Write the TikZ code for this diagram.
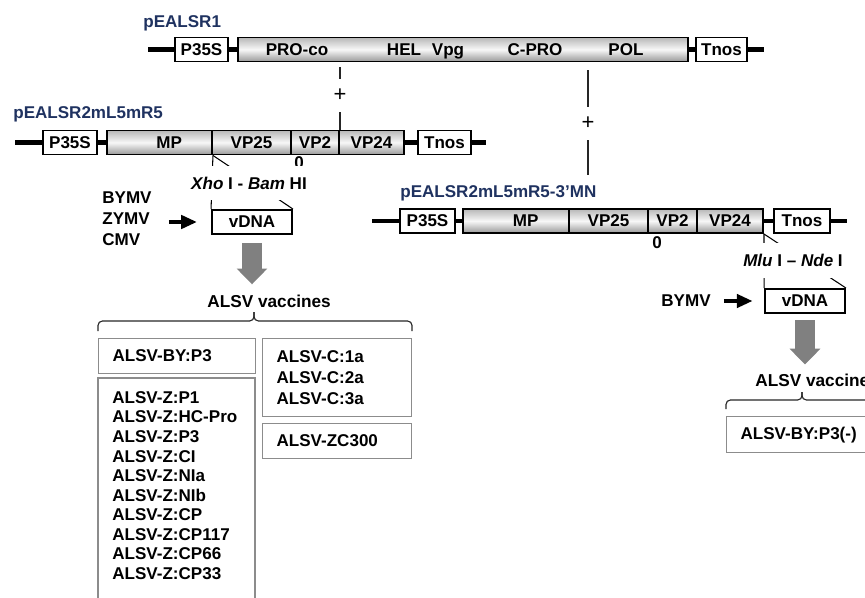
\documentclass[tikz,border=0pt]{standalone}
\usepackage{fontspec}
\setmainfont{Liberation Sans}
\usetikzlibrary{positioning,arrows.meta}
\definecolor{labelnavy}{RGB}{31,50,96}
\definecolor{listgray}{RGB}{140,140,140}
\definecolor{flowgray}{RGB}{128,128,128}

\begin{document}
\begin{tikzpicture}[x=0.02cm, y=-0.02cm,
  every node/.style={font=\fontsize{9.7}{11.6}\selectfont\bfseries},
  backbone/.style={line width=2.4pt},
  promoter/.style={draw, fill=white, line width=1.1pt, minimum height=0.48cm, inner sep=0pt},
  gene/.style={draw, line width=1.1pt, minimum height=0.48cm, inner sep=0pt, top color=black!28, bottom color=black!40, middle color=black!3},
  plasmid/.style={text=labelnavy, inner sep=0pt, anchor=base west},
  joinline/.style={line width=0.7pt, black!85},
  plus/.style={font=\fontsize{12.5}{12}\selectfont, inner sep=0pt, minimum height=0.66cm},
  cutline/.style={line width=0.6pt},
  site/.style={fill=white, inner sep=0pt, minimum height=0.7cm},
  insert/.style={draw, line width=1.1pt, minimum width=1.6cm, minimum height=0.48cm, inner sep=0pt},
  flow/.style={line width=2.2pt, -{Triangle[length=9pt,width=7.5pt]}},
  bigflow/.style={line width=11pt, flowgray, -{Triangle[length=9pt,width=17pt]}},
  heading/.style={inner sep=0pt, font=\fontsize{9.8}{11}\selectfont\bfseries},
  vacbox/.style={draw=listgray, line width=0.7pt, anchor=north west, inner xsep=0.28cm, inner ysep=0pt, align=left},
  listframe/.style={draw=listgray, line width=0.7pt},
  bracepath/.style={line width=0.65pt, black!85, rounded corners=2.5pt},
]
\useasboundingbox (0,0) rectangle (865,598);

% ===== pEALSR1 =====
\node[plasmid] (lab1) at (143,28) {pEALSR1};
\node[promoter, minimum width=1.06cm] (p35s1) at (201.5,49.5) {P35S};
\node[gene, minimum width=9cm] (gene1) at (463,49.5) {};
\node[promoter, minimum width=1.02cm] (tnos1) at (721.5,49.5) {Tnos};
\coordinate (l1) at (148,49.5);
\coordinate (r1) at (764,49.5);
\draw[backbone] (l1) -- (p35s1); \draw[backbone] (p35s1) -- (gene1);
\draw[backbone] (gene1) -- (tnos1); \draw[backbone] (tnos1) -- (r1);
\foreach \x/\t [count=\i] in {297/PRO-co, 404/HEL, 448/Vpg, 535/C-PRO, 626/POL}
  \node[anchor=base] (seg\i) at (\x,55.5) {\t};

% ===== pEALSR2mL5mR5 =====
\node[plasmid] (lab2) at (13,118) {pEALSR2mL5mR5};
\node[promoter, minimum width=1.08cm] (p35s2) at (70,142.5) {P35S};
\node[gene, minimum width=2.1cm] (mp2) at (159.5,142.5) {\hspace{11pt}MP};
\node[gene, minimum width=1.58cm] (vp25b) at (251.5,142.5) {VP25};
\node[gene, minimum width=0.96cm] (vp2b) at (315,142.5) {VP2\hspace{5pt}};
\node[gene, minimum width=1.3cm] (vp24b) at (371.5,142.5) {VP24};
\node[promoter, minimum width=1.06cm] (tnos2) at (444.5,142.5) {Tnos};
\coordinate (l2) at (15,142.5);
\coordinate (r2) at (486,142.5);
\draw[backbone] (l2) -- (p35s2); \draw[backbone] (p35s2) -- (mp2);
\draw[backbone] (vp24b) -- (tnos2); \draw[backbone] (tnos2) -- (r2);
\node (zero2) at (299,163) {0};

% ===== pEALSR2mL5mR5-3'MN =====
\node[plasmid] (lab3) at (400,197) {pEALSR2mL5mR5-3’MN};
\node[promoter, minimum width=1.1cm] (p35s3) at (427.5,221) {P35S};
\node[gene, minimum width=2.12cm] (mp3) at (516,221) {\hspace{11pt}MP};
\node[gene, minimum width=1.58cm] (vp25c) at (608.5,221) {VP25};
\node[gene, minimum width=0.98cm] (vp2c) at (672.5,221) {VP2\hspace{5pt}};
\node[gene, minimum width=1.32cm] (vp24c) at (730,221) {VP24};
\node[promoter, minimum width=1.12cm] (tnos3) at (802,221) {Tnos};
\coordinate (l3) at (372,221);
\coordinate (r3) at (847,221);
\draw[backbone] (l3) -- (p35s3); \draw[backbone] (p35s3) -- (mp3);
\draw[backbone] (vp24c) -- (tnos3); \draw[backbone] (tnos3) -- (r3);
\node (zero3) at (657,243) {0};

% plus links
\node[plus] (plusl) at (340,95.5) {+};
\draw[joinline, shorten <=2.8pt] (gene1.south -| plusl) -- (plusl.north);
\draw[joinline] (plusl.south) -- (plusl.south |- vp24b.north);
\node[plus] (plusr) at (588,123.5) {+};
\draw[joinline, shorten <=4.5pt] (gene1.south -| plusr) -- (plusr.north);
\draw[joinline, shorten >=5.7pt] (plusr.south) -- (plusr.south |- lab3.north);

% ===== inserts =====
\node[insert] (vdnal) at (252,222) {vDNA};
\draw[cutline] (mp2.south east) -- (vdnal.north west);
\draw[cutline] (mp2.south east) -- (vdnal.north east);
\node[site] (xho) at (249,183) {\textit{Xho} I - \textit{Bam} HI};
\node[align=left, inner sep=0pt, anchor=west, font=\fontsize{9.7}{12}\selectfont\bfseries] (virl) at (102,219) {BYMV\\ZYMV\\CMV};
\draw[flow, shorten <=9.6pt, shorten >=8pt] (virl.east |- vdnal.west) -- (vdnal.west);

\node[insert] (vdnar) at (805,301) {vDNA};
\draw[cutline] (vp24c.south east) -- (vdnar.north west);
\draw[cutline] (vp24c.south east) -- (vdnar.north east);
\node[site] (mlu) at (793,260.5) {\textit{Mlu} I – \textit{Nde} I};
\node[inner sep=0pt] (virr) at (686,301) {BYMV};
\draw[flow, shorten <=7.4pt, shorten >=6.5pt] (virr) -- (vdnar);

% ===== vaccines =====
\node[heading, anchor=west] (vacl) at (207,301) {ALSV vaccines};
\draw[bigflow, shorten <=4.5pt, shorten >=5.7pt] (vdnal.south) -- (vdnal.south |- vacl.north);
\draw[bracepath] (98,331) -- (98,321) -- (254,321) -- (254,312);
\draw[bracepath] (412,331) -- (412,321) -- (254,321) -- (254,312);

\node[vacbox, text width=2.58cm, minimum height=0.7cm] (byp3) at (98,338) {ALSV-BY:P3};
\node[anchor=north west, align=left, inner sep=0pt, font=\fontsize{9.7}{11.15}\selectfont\bfseries] (zlist) at (112,391)
  {ALSV-Z:P1\\ALSV-Z:HC-Pro\\ALSV-Z:P3\\ALSV-Z:CI\\ALSV-Z:NIa\\ALSV-Z:NIb\\ALSV-Z:CP\\ALSV-Z:CP117\\ALSV-Z:CP66\\ALSV-Z:CP33};
\draw[listframe] (98,378) rectangle (255,615);
\node[vacbox, text width=2.42cm, minimum height=1.56cm, font=\fontsize{9.7}{11.9}\selectfont\bfseries] (cbox) at (262,338)
  {ALSV-C:1a\\ALSV-C:2a\\ALSV-C:3a};
\node[vacbox, text width=2.42cm, minimum height=0.7cm] (zc300) at (262,423) {ALSV-ZC300};

\node[heading, anchor=west] (vacr) at (755,380) {ALSV vaccines};
\draw[bigflow, shorten <=3.6pt, shorten >=5pt] (vdnar.south) -- (vdnar.south |- vacr.north);
\draw[bracepath] (726,409) -- (726,400) -- (802,400) -- (802,392);
\draw[bracepath] (878,409) -- (878,400) -- (802,400) -- (802,392);
\node[vacbox, text width=2.58cm, minimum height=0.72cm] (byp3m) at (726,416) {ALSV-BY:P3(-)};

\end{tikzpicture}
\end{document}
